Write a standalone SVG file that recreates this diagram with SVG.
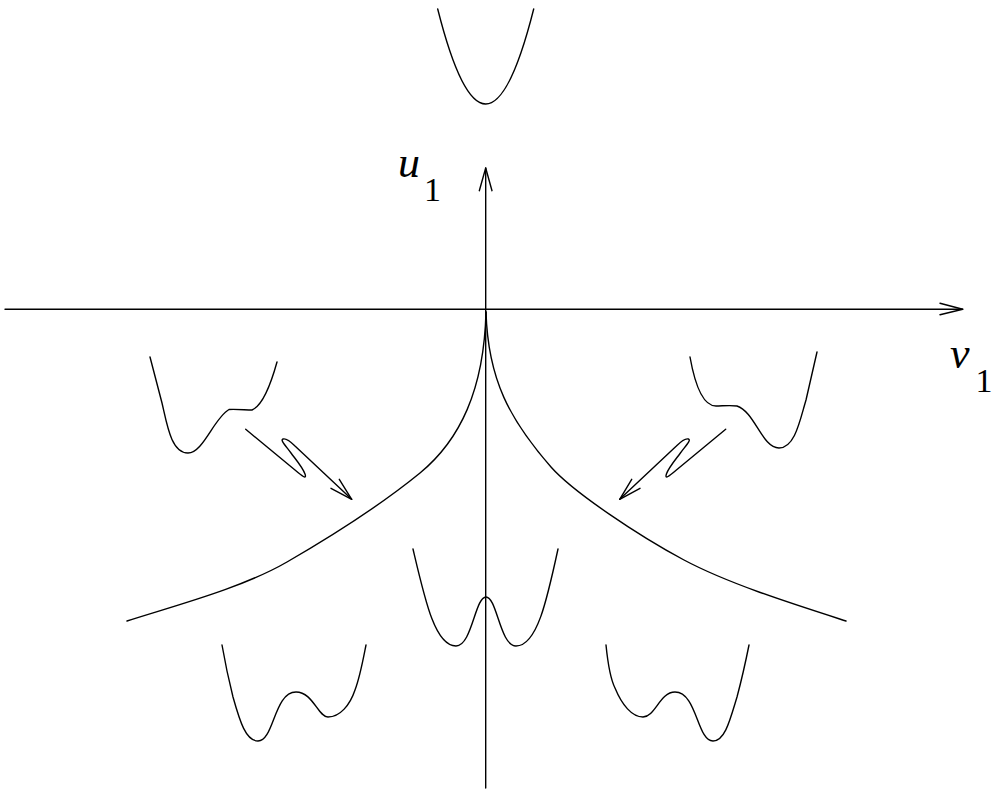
<svg xmlns="http://www.w3.org/2000/svg" width="997" height="791" viewBox="0 0 997 791">
<style>
.ln{fill:none;stroke:#000;stroke-width:1.4;stroke-linecap:round;stroke-linejoin:round}
.lb{font-family:"Liberation Serif",serif;fill:#000}
</style>
<rect width="997" height="791" fill="#fff"/>
<g id="connectors">
<g id="axis-v1">
<line class="ln" x1="5" y1="309.3" x2="962.7" y2="309.3"/>
<polyline class="ln" points="940,303.3 962.7,309.3 940,314.7"/>
</g>
<g id="axis-u1">
<line class="ln" x1="485.7" y1="788" x2="485.7" y2="168"/>
<polyline class="ln" points="479.3,190.7 485.7,168 492,190.7"/>
</g>
<g id="arrow-left">
<path class="ln" d="M245.7,429.3 L295,470 C302,476 307,480 305,474 C303,468 297,461 291,453 C285,445 280,440 283,439 C286,438 290,441 295,446 L351.7,499.3"/>
<polyline class="ln" points="339.3,479.3 351.7,499.3 331,488.3"/>
</g>
<g id="arrow-right">
<path class="ln" d="M725.7,429.3 L676.4,470 C669.4,476 664.4,480 666.4,474 C668.4,468 674.4,461 680.4,453 C686.4,445 691.4,440 688.4,439 C685.4,438 681.4,441 676.4,446 L619.7,499.3"/>
<polyline class="ln" points="631.7,479.3 619.7,499.3 640,488.3"/>
</g>
</g>
<g id="cusp">
<path class="ln" d="M486,312 C484,390 460,440 420,473 C382,504 332,536 287,562 C242,588 177,605 127,621"/>
<path class="ln" d="M486,312 C488,380 510,420 551,467 C573,492 639,536 684,560 C729,584 796,605 846,621"/>
</g>
<g id="potential-top">
<path class="ln" d="M437.7,9 Q485.7,199 533.7,9"/>
</g>
<g id="potential-left">
<path class="ln" d="M150,357 L162,403 C167,424 171,453 188,453 C203,453 214,418 229,409.5 C236,409 246,410 252,410 C264,405 272,380 277,362"/>
</g>
<g id="potential-right">
<path class="ln" d="M690,357 C695,385 703,406 716,406 C722,406 730,405 737,406 C755,412 762,448 779,448 C795,448 800,420 806,400 L817,352"/>
</g>
<g id="potential-center">
<path class="ln" d="M413,549 C425,600 435,646 456,646 C472,646 475,597 486,597 C497,597 500,646 516,646 C537,646 547,600 558,549"/>
</g>
<g id="potential-bottom-left">
<path class="ln" d="M222,645 C226,668 230,685 233,697 C240,722 246,741 258,741 C274,741 274,692 296,692 C313,692 318,717 328,717 C340,717 350,705 355,690 C360,677 363,660 366,645"/>
</g>
<g id="potential-bottom-right">
<path class="ln" d="M606,645 C608,665 610,678 615,688 C622,705 632,717 643,717 C655,717 660,692 675,692 C697,692 697,741 713,741 C725,741 730,720 737,697 C741,682 745,665 749,645"/>
</g>
<g id="label-u1">
<text class="lb" x="398" y="177" font-size="44" font-style="italic">u</text>
<text class="lb" x="424" y="201" font-size="34">1</text>
</g>
<g id="label-v1">
<text class="lb" x="950" y="368" font-size="44" font-style="italic">v</text>
<text class="lb" x="975.5" y="392" font-size="34">1</text>
</g>
</svg>
